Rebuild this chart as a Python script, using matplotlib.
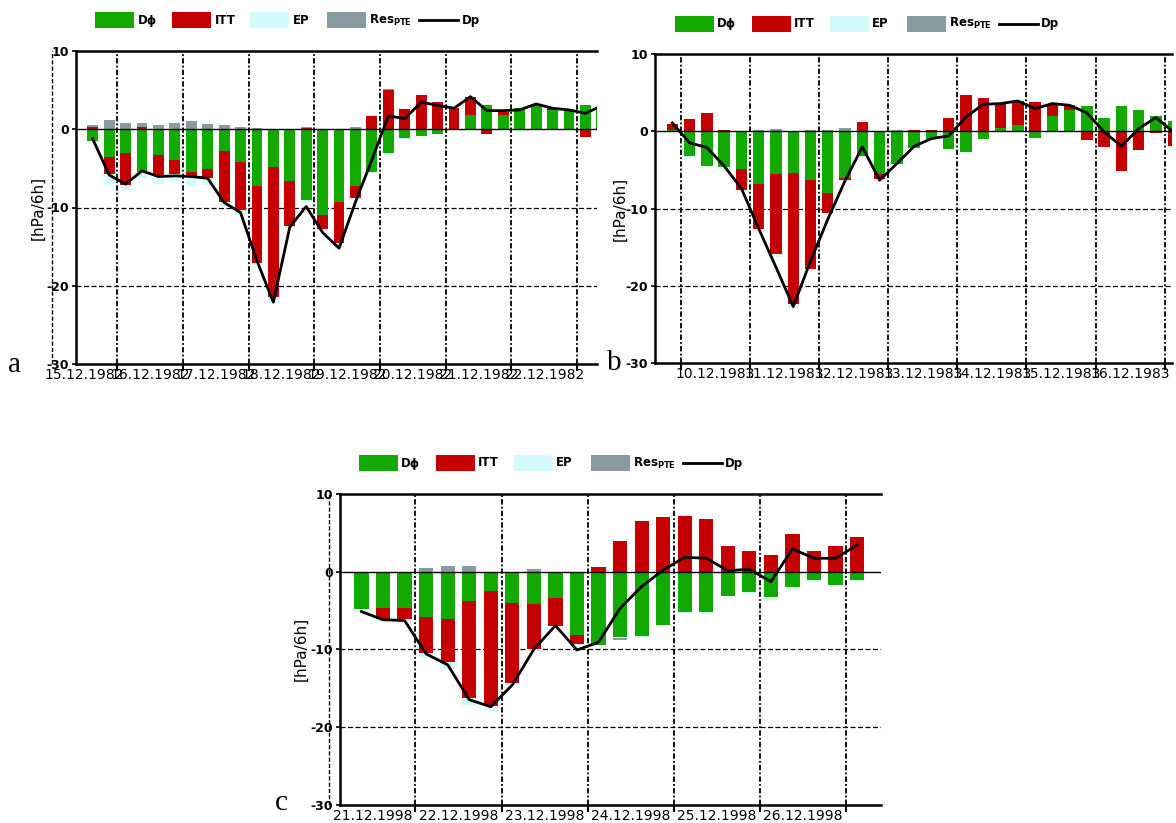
import matplotlib

matplotlib.use("Agg")
import matplotlib.pyplot as plt
import matplotlib.dates as mdates
from matplotlib.patches import Rectangle
from matplotlib.lines import Line2D
from matplotlib.ticker import NullFormatter
import numpy as np
import pandas as pd

W, H = 1176, 823

# ---- panel a: 6-hourly budget, Dec 1982 ----
start_a = "1982-12-15 15:00"
xlim_a = ("1982-12-15 08:54", "1982-12-23 07:08")
dphi_a = [-1.45, -3.57, -3.06, -5.49, -3.28, -3.91, -5.40, -5.11, -2.77, -4.21,
          -7.23, -4.77, -6.55, -9.03, -10.95, -9.24, -7.2, -5.5, -3.07, -1.15,
          -0.82, -0.6, 0.0, 1.8, 3.15, 1.8, 2.76, 3.23, 2.47, 2.38, 3.15, 2.9]
itt_a = [0.26, -2.13, -4.04, 0.26, -2.55, -1.79, -0.56, -1.15, -6.59, -6.17,
         -9.87, -16.63, -5.85, 0.2, -1.82, -5.32, -1.6, 1.7, 5.0, 2.55,
         4.38, 3.45, 2.68, 2.37, -0.6, 0.4, -0.15, 0.0, 0.2, 0.0, -1.05, 0.0]
ep_a = [-0.34, -1.4, -0.64, -0.77, -1.15, -0.98, -1.23, -0.84, -0.51, -0.56,
        -0.25, -0.75, -0.2, -0.22, -0.1, -0.6, -0.1, -0.1, -0.2, -0.05,
        -0.05, -0.05, -0.05, -0.05, -0.1, -0.05, -0.05, -0.05, -0.05, -0.1, -0.05, 0.0]
res_a = [0.29, 1.19, 0.77, 0.51, 0.55, 0.77, 1.06, 0.68, 0.55, 0.26,
         0.13, 0.0, 0.0, 0.05, 0.0, 0.0, 0.25, 0.0, 0.1, 0.0,
         0.0, 0.0, 0.0, 0.0, 0.0, 0.0, 0.0, 0.0, 0.0, 0.0, 0.0, 0.0]
dp_a = [-1.23, -5.83, -7.02, -5.32, -6.04, -5.96, -6.04, -6.26, -9.36, -10.64,
        -16.8, -22.1, -12.5, -9.87, -13.2, -15.2, -9.3, -3.9, 1.7, 1.36,
        3.45, 3.06, 2.68, 4.17, 2.38, 2.38, 2.47, 3.23, 2.68, 2.47, 2.04, 3.0]

# ---- panel b: Dec 1983 ----
start_b = "1983-12-09 21:00"
xlim_b = ("1983-12-09 14:59", "1983-12-17 02:33")
dphi_b = [0.2, -3.23, -4.48, -4.6, -4.83, -6.85, -5.47, -5.34, -6.25, -7.97,
          -6.03, -3.2, -5.56, -4.18, -2.11, -1.03, -2.24, -2.72, -0.99, 0.47,
          0.86, -0.86, 1.94, 2.72, 3.23, 1.72, 3.23, 2.72, 1.94, 1.29]
itt_b = [0.8, 1.6, 2.41, 0.13, -2.8, -5.78, -10.43, -16.96, -11.55, -2.59,
         -0.31, 1.16, -0.64, -0.09, 0.22, 0.13, 1.77, 4.74, 4.35, 3.11,
         3.02, 3.75, 1.64, 0.64, -1.08, -2.03, -5.17, -2.46, -0.22, -1.94]
ep_b = [0.0, -0.05, -0.05, -0.27, -0.1, -0.2, -0.4, -0.6, -0.15, -0.1,
        -0.1, 0.0, -0.1, -0.05, -0.05, -0.05, -0.05, -0.1, -0.05, 0.0,
        0.0, -0.05, 0.0, 0.0, -0.05, -0.05, -0.1, -0.05, -0.05, -0.05]
res_b = [0.0, 0.0, 0.0, 0.0, 0.0, 0.13, 0.26, 0.0, 0.13, 0.13,
         0.39, 0.0, 0.0, 0.1, 0.0, 0.0, 0.0, 0.0, 0.0, 0.0,
         0.0, 0.0, 0.0, 0.0, 0.0, 0.0, 0.0, 0.0, 0.0, 0.0]
dp_b = [1.08, -1.5, -2.1, -4.5, -7.4, -12.6, -17.6, -22.7, -16.8, -11.4,
        -6.4, -2.03, -6.34, -4.18, -1.94, -0.95, -0.6, 1.85, 3.49, 3.58,
        3.92, 2.93, 3.58, 3.36, 2.37, -0.1, -1.94, 0.34, 1.77, -0.09]

# ---- panel c: Dec 1998 ----
start_c = "1998-12-21 09:00"
xlim_c = ("1998-12-21 03:01", "1998-12-27 09:39")
dphi_c = [-4.81, -4.72, -4.72, -5.79, -6.09, -3.73, -2.49, -3.99, -4.21, -3.43,
          -8.15, -9.44, -8.37, -8.28, -6.87, -5.24, -5.24, -3.09, -2.58, -3.3,
          -2.02, -1.07, -1.67, -1.07]
itt_c = [0.0, -1.42, -1.33, -4.71, -5.61, -12.57, -14.81, -10.31, -5.79, -3.52,
         -1.16, 0.56, 3.95, 6.52, 7.0, 7.17, 6.74, 3.3, 2.66, 2.15,
         4.85, 2.66, 3.35, 4.42]
ep_c = [-0.34, -0.21, -0.1, -0.65, -0.9, -0.85, -0.7, -0.3, -0.1, -0.1,
        -0.2, -0.1, -0.2, -0.1, -0.1, -0.1, -0.05, -0.1, -0.3, -0.34,
        -0.34, -0.1, -0.1, -0.1]
res_c = [0.0, 0.0, 0.0, 0.43, 0.69, 0.69, 0.0, 0.0, 0.3, 0.0,
         0.0, 0.0, -0.25, 0.0, 0.0, 0.0, 0.0, 0.0, 0.0, 0.0,
         0.0, 0.0, 0.0, 0.0]
dp_c = [-5.15, -6.2, -6.3, -10.6, -12.0, -16.5, -17.4, -14.6, -10.0, -6.95,
        -10.09, -9.1, -4.72, -1.93, 0.21, 1.85, 1.72, 0.13, 0.3, -1.29,
        2.92, 1.72, 1.72, 3.43]

labels = ["D\u03d5", "ITT", "EP", r"Res$_{\mathbf{PTE}}$", "Dp"]
colors = ["#12aa00", "#c40000", "#d4fbfb", "#889ba1"]

plt.rcParams["font.family"] = ["DejaVu Sans"]
plt.rcParams["axes.unicode_minus"] = False


def fx(x):
    return x / W


def fy(y):
    return 1 - y / H


def stacked_bars(ax, t, comps, width):
    # positive parts stack upward from 0, negative parts downward
    pos = np.zeros(len(t))
    neg = np.zeros(len(t))
    for vals, c in zip(comps, colors):
        v = np.asarray(vals, dtype=float)
        bottom = np.where(v >= 0, pos, neg)
        ax.bar(t, v, width=width, bottom=bottom, color=c, lw=0, zorder=2)
        pos = pos + np.clip(v, 0, None)
        neg = neg + np.clip(v, None, 0)


def draw_legend(fig, x0, yc):
    offs = [0, 77, 155, 232, 324]
    pw, ph = 39, 16
    for i, lab in enumerate(labels):
        x = x0 + offs[i]
        if i < 4:
            fig.add_artist(Rectangle((fx(x), fy(yc + ph / 2)), pw / W, ph / H,
                                     transform=fig.transFigure, color=colors[i], lw=0))
        else:
            fig.add_artist(Line2D([fx(x), fx(x + pw)], [fy(yc), fy(yc)],
                                  transform=fig.transFigure, color="k", lw=2))
        fig.text(fx(x + pw + 3), fy(yc), lab, fontsize=8.5, fontweight="bold",
                 va="center", ha="left")


def panel(fig, box, start, xlim, dphi, itt, ep, res, dp, ylab_off, dash_off):
    left, top, right, bottom = box
    ax = fig.add_axes([fx(left), fy(bottom), (right - left) / W, (bottom - top) / H])
    t = mdates.date2num(pd.date_range(start, periods=len(dp), freq="6h"))
    stacked_bars(ax, t, [dphi, itt, ep, res], width=0.165)
    ax.plot(t, dp, color="k", lw=2, zorder=4)
    ax.axhline(0, color="k", lw=1, zorder=3)
    for yv in [-10, -20]:
        ax.axhline(yv, color="k", lw=0.9, ls=(0, (4, 2)), zorder=1)

    ax.set_xlim(mdates.date2num(pd.Timestamp(xlim[0])),
                mdates.date2num(pd.Timestamp(xlim[1])))
    ax.set_ylim(-30, 10)
    ax.set_yticks([-30, -20, -10, 0, 10])
    ax.xaxis.set_major_locator(mdates.DayLocator())
    ax.xaxis.set_major_formatter(NullFormatter())
    ax.xaxis.set_minor_locator(mdates.HourLocator(byhour=12))
    ax.xaxis.set_minor_formatter(mdates.DateFormatter("%d.%m.%Y"))
    ax.grid(axis="x", which="major", color="k", lw=1.3,
            ls=(0, (3, 1.2, 1, 1.2)), zorder=1)
    ax.tick_params(axis="x", which="major", length=5, width=1.5, direction="out")
    ax.tick_params(axis="x", which="minor", length=0, labelsize=10, pad=3)
    ax.tick_params(axis="y", length=3, width=1.2, pad=2, labelsize=9)
    for lab in ax.get_yticklabels():
        lab.set_fontweight("bold")

    for s in ["top", "left", "bottom"]:
        ax.spines[s].set_linewidth(1.8)
    ax.spines["right"].set_visible(False)

    w = right - left
    ax.set_ylabel("[hPa/6h]", fontsize=11)
    ax.yaxis.set_label_coords(-ylab_off / w, 0.5)
    if dash_off:
        ax.plot([-dash_off / w] * 2, [0, 1], transform=ax.transAxes, clip_on=False,
                color="k", lw=1, ls=(0, (3, 1.5)))
    return ax


fig = plt.figure(figsize=(W / 100, H / 100), dpi=100)

panel(fig, (76, 51, 596.7, 364), start_a, xlim_a,
      dphi_a, itt_a, ep_a, res_a, dp_a, 30, 24)
panel(fig, (655, 54, 1172, 363), start_b, xlim_b,
      dphi_b, itt_b, ep_b, res_b, dp_b, 27, 0)
panel(fig, (340, 494, 881, 804.5), start_c, xlim_c,
      dphi_c, itt_c, ep_c, res_c, dp_c, 31, 11)

draw_legend(fig, 95.4, 20.3)
draw_legend(fig, 675, 23.7)
draw_legend(fig, 359, 463)

for letter, (x, y) in zip(["a", "b", "c"], [(8, 371.7), (607, 370), (275, 810)]):
    fig.text(fx(x), fy(y), letter, fontsize=21, family="Liberation Serif",
             ha="left", va="baseline")

fig.savefig("out.png", dpi=100)
